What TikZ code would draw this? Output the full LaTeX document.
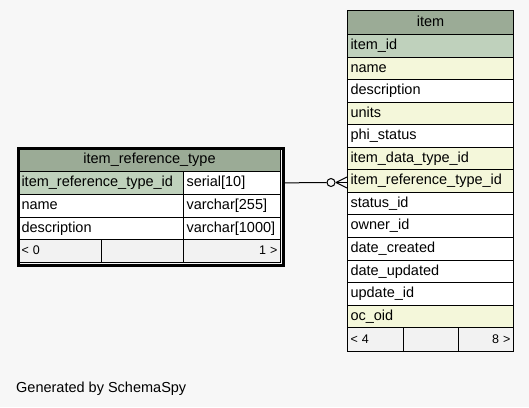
\documentclass[tikz,border=0pt]{standalone}
\usepackage{fontspec}
\setmainfont{Liberation Sans}
\usetikzlibrary{calc}
\definecolor{bgc}{HTML}{F7F7F7}
\definecolor{hdrc}{HTML}{9BAB96}
\definecolor{pkc}{HTML}{BFD1BC}
\definecolor{fkc}{HTML}{F4F7DA}
\definecolor{ftc}{HTML}{F2F2F2}
\begin{document}
\begin{tikzpicture}[x=1pt,y=-1pt,
  cell/.style={draw=black, line width=1pt, anchor=north west, minimum height=22.55pt,
    inner xsep=3pt, inner ysep=0pt, text width=#1, align=left,
    text height=10.6pt, text depth=3pt, font=\fontsize{14.5}{17}\selectfont, fill=white},
  hdr/.style={cell=#1, align=center, fill=hdrc, minimum height=24pt},
  foot/.style={cell=#1, fill=ftc, font=\fontsize{12.5}{15}\selectfont, minimum height=23.5pt},
  footr/.style={foot=#1, align=right},
  frame/.style={draw=black, anchor=north west, inner sep=0pt},
  conn/.style={draw=black, line width=1pt}]
\useasboundingbox (0,0) rectangle (529,407);
\fill[bgc] (0,0) rectangle (529,407);

% ---- item table ----
\node[hdr=160pt] (i-h) at (347,10) {item};
\node[cell=160pt, fill=pkc] (i-1) at (347,34) {item\_id};
\node[cell=160pt, fill=fkc] (i-2) at (347,56.55) {name};
\node[cell=160pt] (i-3) at (347,79.1) {description};
\node[cell=160pt, fill=fkc] (i-4) at (347,101.65) {units};
\node[cell=160pt] (i-5) at (347,124.2) {phi\_status};
\node[cell=160pt, fill=fkc] (i-6) at (347,146.75) {item\_data\_type\_id};
\node[cell=160pt, fill=fkc] (i-7) at (347,169.3) {item\_reference\_type\_id};
\node[cell=160pt] (i-8) at (347,191.85) {status\_id};
\node[cell=160pt] (i-9) at (347,214.4) {owner\_id};
\node[cell=160pt] (i-10) at (347,236.95) {date\_created};
\node[cell=160pt] (i-11) at (347,259.5) {date\_updated};
\node[cell=160pt] (i-12) at (347,282.05) {update\_id};
\node[cell=160pt, fill=fkc] (i-13) at (347,304.6) {oc\_oid};
\node[foot=50pt] (i-f1) at (347,327.15) {< 4};
\node[foot=49pt] (i-f2) at (403,327.15) {};
\node[footr=49pt] (i-f3) at (458,327.15) {8 >};
\node[frame, line width=1.2pt, minimum width=166pt, minimum height=340.7pt] (item) at (347,10) {};

% ---- item_reference_type table ----
\node[hdr=256pt, minimum height=23pt] (r-h) at (18,148) {item\_reference\_type};
\node[cell=159pt, fill=pkc, minimum height=22.75pt] (r-1) at (18,171) {item\_reference\_type\_id};
\node[cell=91pt, minimum height=22.75pt] (r-1t) at (183,171) {serial[10]};
\node[cell=159pt, minimum height=22.75pt] (r-2) at (18,193.75) {name};
\node[cell=91pt, minimum height=22.75pt] (r-2t) at (183,193.75) {varchar[255]};
\node[cell=159pt, minimum height=22.75pt] (r-3) at (18,216.5) {description};
\node[cell=91pt, minimum height=22.75pt] (r-3t) at (183,216.5) {varchar[1000]};
\node[foot=77pt, minimum height=22.75pt] (r-f1) at (18,239.25) {< 0};
\node[foot=76pt, minimum height=22.75pt] (r-f2) at (101,239.25) {};
\node[footr=91pt, minimum height=22.75pt] (r-f3) at (183,239.25) {1 >};
\node[frame, line width=3pt, minimum width=265pt, minimum height=117pt] (irt) at (16.5,146.5) {};

% ---- relationship ----
\node[circle, draw=black, line width=1pt, fill=bgc, inner sep=0pt, minimum size=8pt] (fkcirc) at (331,182.5) {};
\coordinate (cf) at (336,182.5);
\draw[conn] (irt.east |- r-1.center) -- (fkcirc.west);
\draw[conn] (fkcirc.east) -- (item.west |- cf);
\draw[conn] (cf) -- ($(item.west |- cf)+(0,5.5)$);
\draw[conn] (cf) -- ($(item.west |- cf)+(0,-5.5)$);

% ---- footer text ----
\node[anchor=base west, inner sep=0pt, font=\fontsize{14.5}{17}\selectfont] (gen) at (16,392) {Generated by SchemaSpy};
\end{tikzpicture}
\end{document}
